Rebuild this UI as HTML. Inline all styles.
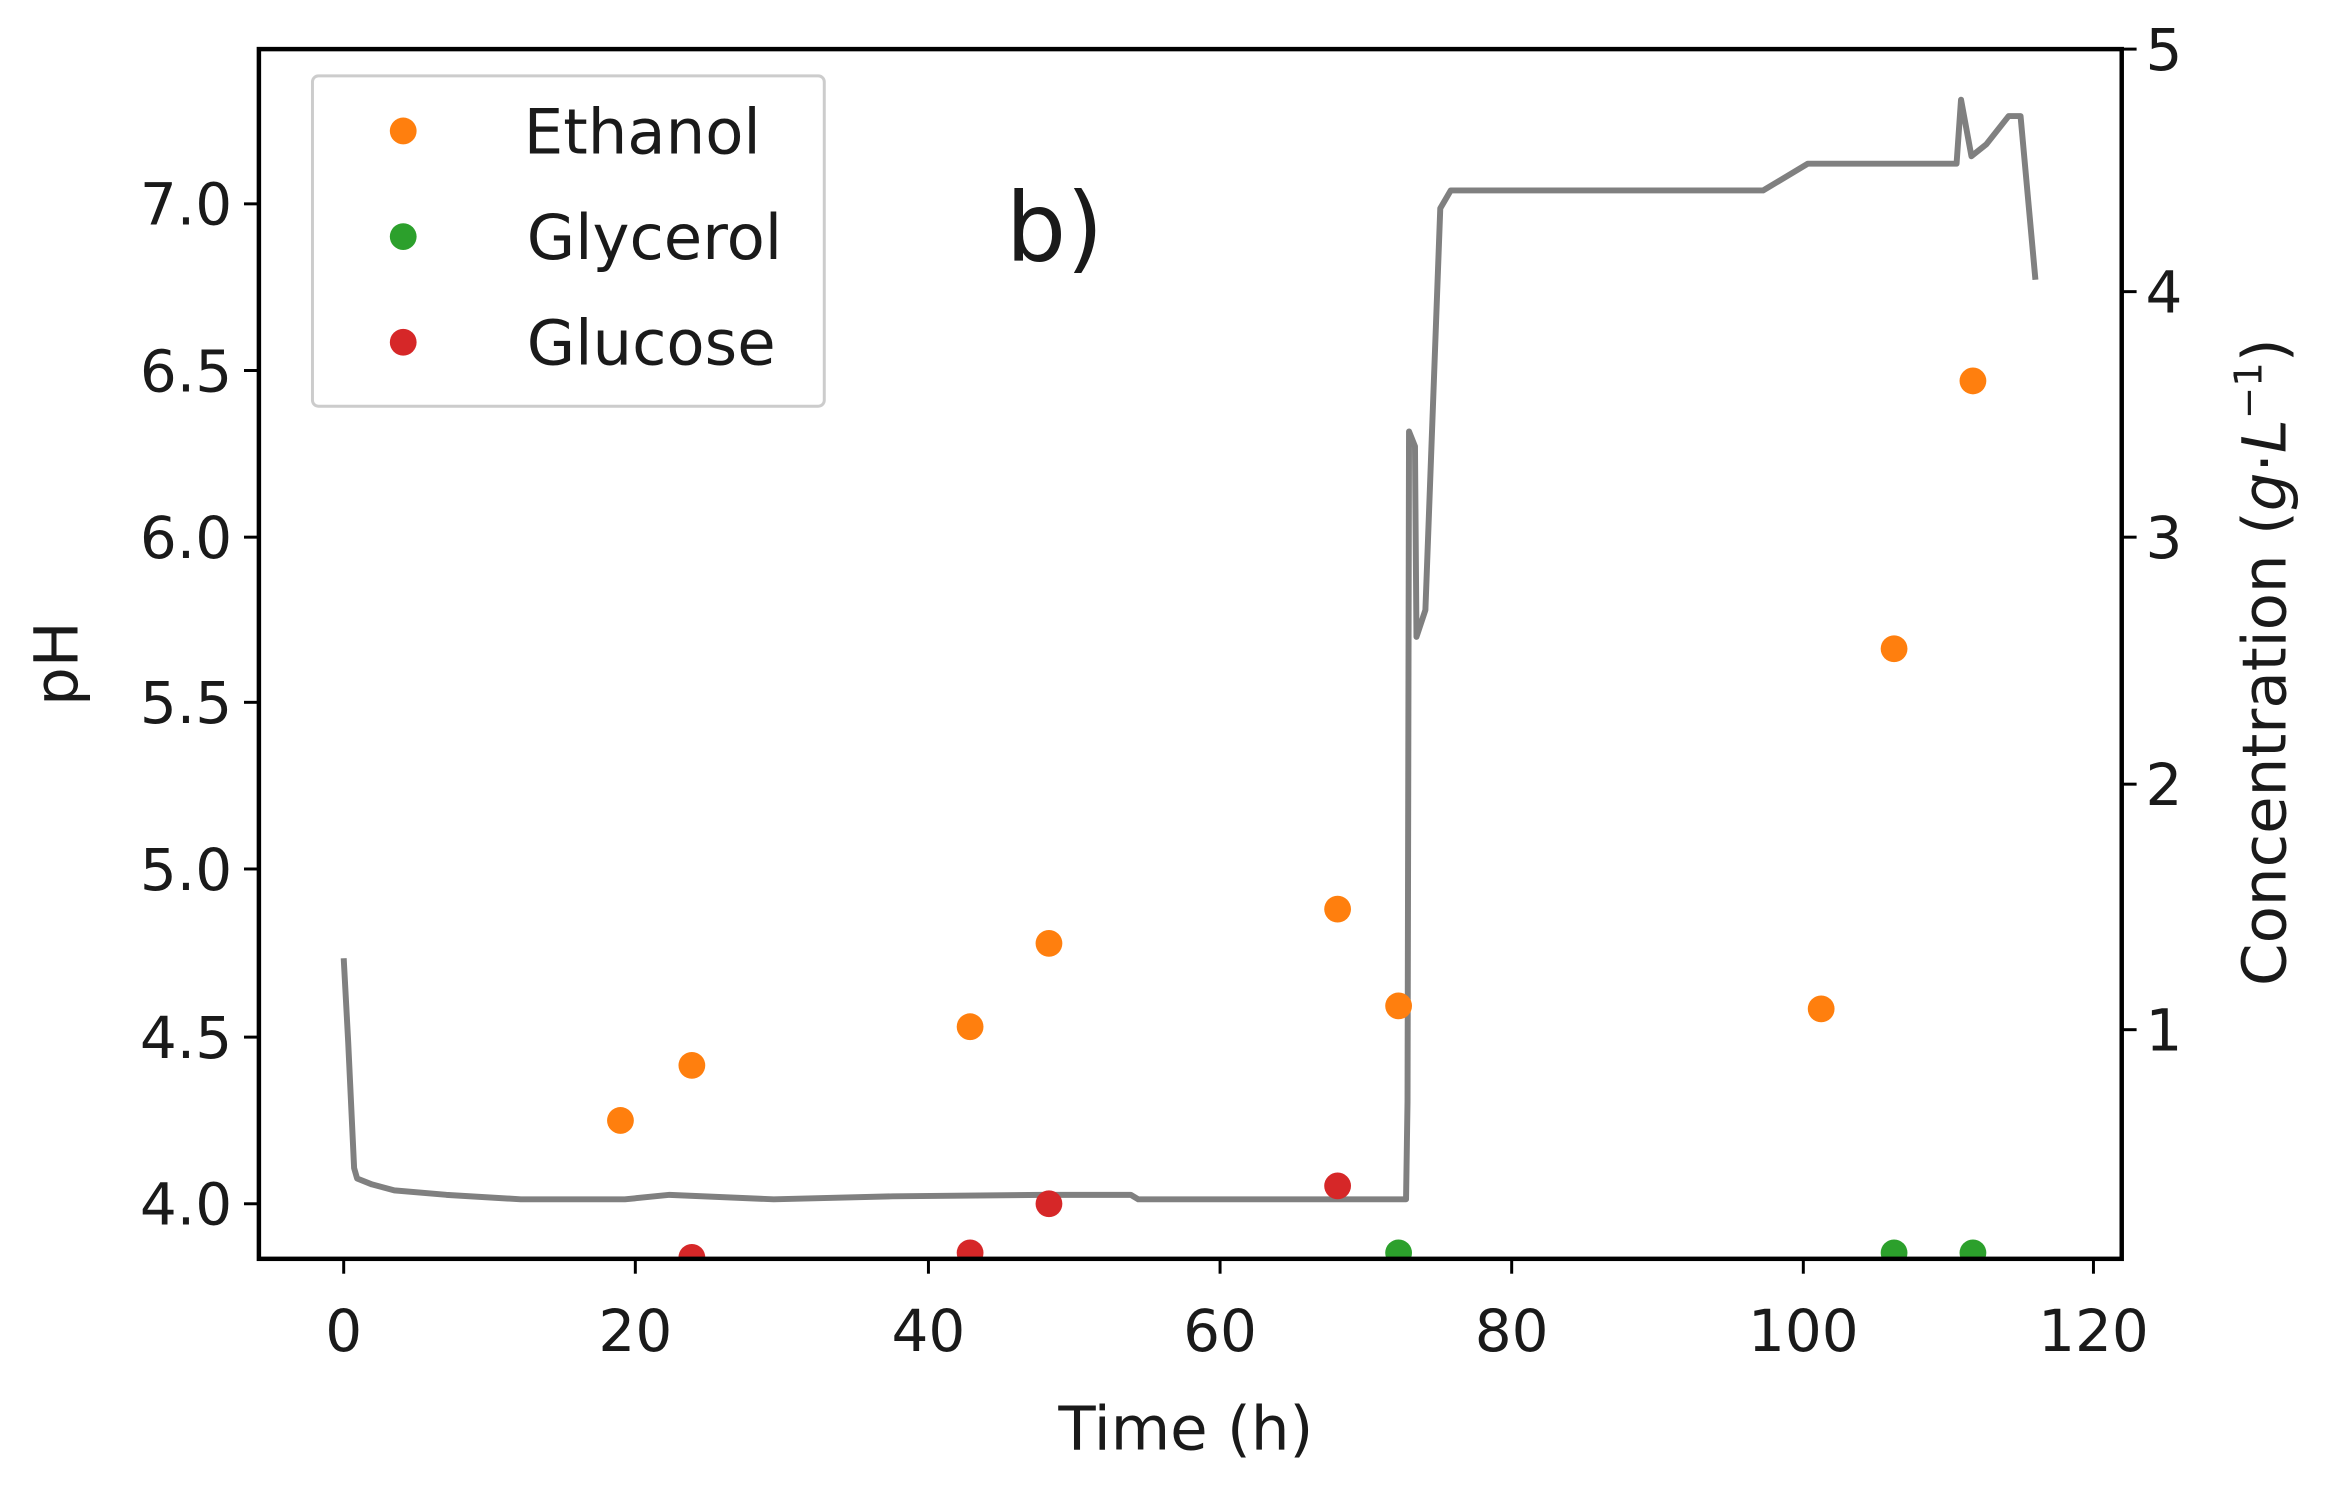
<!DOCTYPE html>
<html><head><style>html,body{margin:0;padding:0;background:#fff}svg{display:block}text{font-family:"DejaVu Sans","Liberation Sans",sans-serif;fill:#1a1a1a}</style></head>
<body>
<svg width="2333" height="1485" viewBox="0 0 1568 998" preserveAspectRatio="none" xmlns="http://www.w3.org/2000/svg">
<rect width="1568" height="998" fill="#fff"/>
<polyline fill="none" stroke="#808080" stroke-width="4" stroke-linejoin="round" points="231,644 234,700 238,785 240,792 250,796 265,800 300,803 350,806 420,806 450,803 520,806 600,804 700,803 760,803 765,806 945,806 946,740 947,290 951,300 952,428 958,410 968,140 975,128 1185,128 1195,122 1215,110 1315,110 1318,67 1325,105 1335,97 1350,78 1358,78 1368,188"/>
<g fill="#ff7f0e">
<circle cx="417" cy="753" r="9"/><circle cx="465" cy="716" r="9"/><circle cx="652" cy="690" r="9"/><circle cx="705" cy="634" r="9"/><circle cx="899" cy="611" r="9"/><circle cx="940" cy="676" r="9"/><circle cx="1224" cy="678" r="9"/><circle cx="1273" cy="436" r="9"/><circle cx="1326" cy="256" r="9"/>
</g>
<g fill="#d62728">
<circle cx="465" cy="845" r="9"/><circle cx="652" cy="842" r="9"/><circle cx="705" cy="809" r="9"/><circle cx="899" cy="797" r="9"/>
</g>
<g fill="#2ca02c">
<circle cx="940" cy="842" r="9"/><circle cx="1273" cy="842" r="9"/><circle cx="1326" cy="842" r="9"/>
</g>
<rect x="0" y="847" width="1568" height="20" fill="#fff"/>
<rect x="174" y="33" width="1252" height="813" fill="none" stroke="#000" stroke-width="3"/>
<g stroke="#000" stroke-width="2">
<line x1="231" y1="846" x2="231" y2="856"/><line x1="427" y1="846" x2="427" y2="856"/><line x1="624" y1="846" x2="624" y2="856"/><line x1="820" y1="846" x2="820" y2="856"/><line x1="1016" y1="846" x2="1016" y2="856"/><line x1="1212" y1="846" x2="1212" y2="856"/><line x1="1407" y1="846" x2="1407" y2="856"/>
<line x1="164" y1="137" x2="174" y2="137"/><line x1="164" y1="249" x2="174" y2="249"/><line x1="164" y1="361" x2="174" y2="361"/><line x1="164" y1="472" x2="174" y2="472"/><line x1="164" y1="584" x2="174" y2="584"/><line x1="164" y1="697" x2="174" y2="697"/><line x1="164" y1="809" x2="174" y2="809"/>
<line x1="1426" y1="33" x2="1436" y2="33"/><line x1="1426" y1="196" x2="1436" y2="196"/><line x1="1426" y1="361" x2="1436" y2="361"/><line x1="1426" y1="527" x2="1436" y2="527"/><line x1="1426" y1="692" x2="1436" y2="692"/>
</g>
<g font-size="39" text-anchor="middle">
<text x="231" y="908">0</text><text x="427" y="908">20</text><text x="624" y="908">40</text><text x="820" y="908">60</text><text x="1016" y="908">80</text><text x="1212" y="908">100</text><text x="1407" y="908">120</text>
</g>
<g font-size="39" text-anchor="end">
<text x="156" y="151">7.0</text><text x="156" y="263">6.5</text><text x="156" y="375">6.0</text><text x="156" y="486">5.5</text><text x="156" y="598">5.0</text><text x="156" y="711">4.5</text><text x="156" y="823">4.0</text>
</g>
<g font-size="39">
<text x="1442" y="47">5</text><text x="1442" y="210">4</text><text x="1442" y="375">3</text><text x="1442" y="541">2</text><text x="1442" y="706">1</text>
</g>
<text x="797" y="974" font-size="41" text-anchor="middle">Time (h)</text>
<text transform="translate(52,446) rotate(-90)" font-size="41" text-anchor="middle">pH</text>
<text transform="translate(1536,445) rotate(-90)" font-size="41" text-anchor="middle">Concentration (<tspan font-style="italic">g</tspan>·<tspan font-style="italic">L</tspan><tspan font-size="26" dy="-16">−1</tspan><tspan dy="16">)</tspan></text>
<rect x="210" y="51" width="344" height="222" rx="4" fill="#fff" stroke="#ccc" stroke-width="2"/>
<circle cx="271" cy="88" r="9" fill="#ff7f0e"/><circle cx="271" cy="159" r="9" fill="#2ca02c"/><circle cx="271" cy="230" r="9" fill="#d62728"/>
<g font-size="42"><text x="352" y="103">Ethanol</text><text x="354" y="174">Glycerol</text><text x="354" y="245">Glucose</text></g>
<text x="676" y="175" font-size="64">b)</text>
</svg>
</body></html>
